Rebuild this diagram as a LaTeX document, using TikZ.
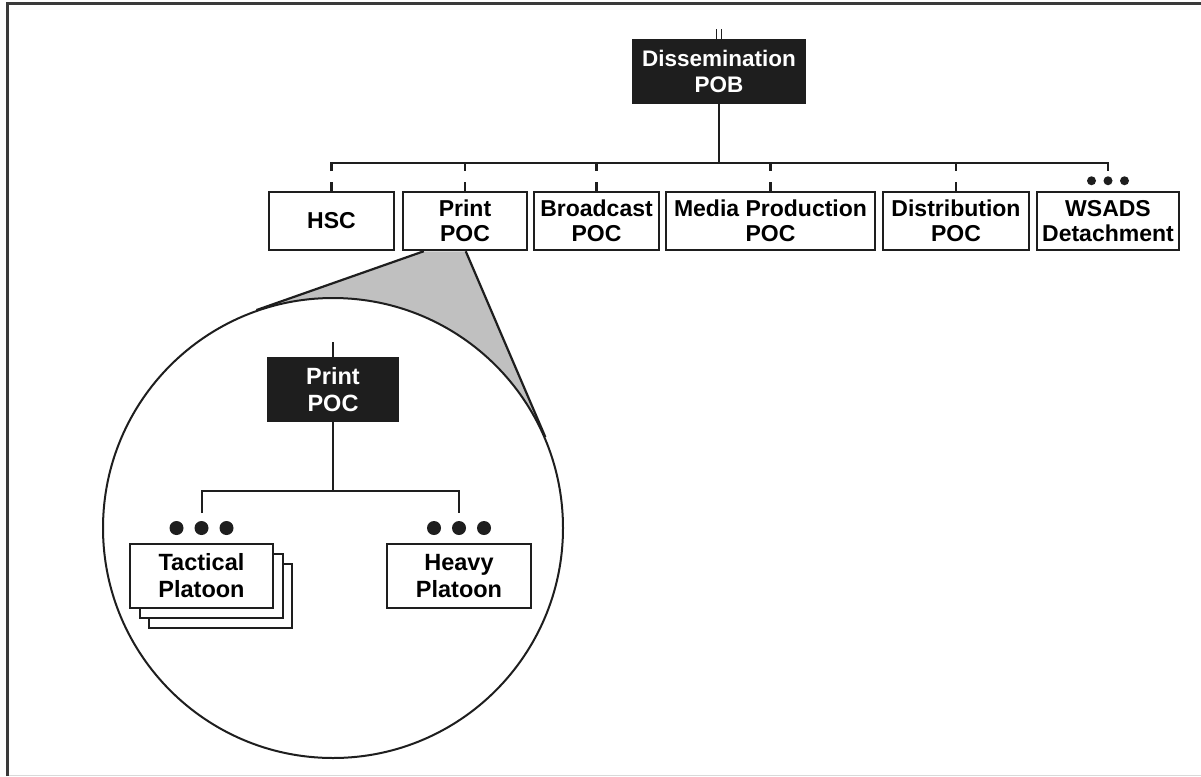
\documentclass[tikz,border=0pt]{standalone}
\usepackage{fontspec}
\setmainfont{Liberation Sans}
\usetikzlibrary{calc}
\pgfdeclarelayer{background}
\pgfsetlayers{background,main}
\definecolor{ink}{HTML}{1E1E1E}
\definecolor{wedge}{HTML}{C0C0C0}
\definecolor{framecol}{HTML}{3A3A3A}

\begin{document}
\begin{tikzpicture}[x=1pt,y=-1pt,
  unit/.style={draw=ink, line width=2.5pt, fill=white, inner sep=0pt, align=center,
    minimum height=58pt, font=\fontsize{23}{25.5}\selectfont\bfseries},
  hq/.style={fill=ink, text=white, inner sep=0pt, align=center,
    minimum height=65pt, font=\fontsize{22.5}{26.5}\selectfont\bfseries},
  sub/.style={draw=ink, line width=2pt, fill=white, inner sep=0pt, align=center,
    minimum width=143pt, minimum height=64pt, font=\fontsize{23.5}{27}\selectfont\bfseries},
  link/.style={draw=ink, line width=2.5pt},
  thinlink/.style={draw=ink, line width=2pt},
  smalldot/.style={circle, fill=ink, inner sep=0pt, minimum size=9pt},
  bigdot/.style={circle, fill=ink, inner sep=0pt, minimum size=14pt},
]
\useasboundingbox (0,0) rectangle (1201,776);

% page frame
\draw[framecol, line width=3pt] (7.5,776) -- (7.5,3.5) -- (1201,3.5);
\draw[black!15, line width=1pt] (9,775.5) -- (1201,775.5);

% headquarters
\node[hq, minimum width=174pt] (pob) at (719,71.5) {Dissemination\\POB};
\draw[ink, line width=1.6pt] ([xshift=-2.5pt]pob.north) -- ++(0,-10);
\draw[ink, line width=1.6pt] ([xshift=2.5pt]pob.north) -- ++(0,-10);

% subordinate row
\node[unit, minimum width=125pt] (hsc) at (331.5,221) {HSC};
\node[unit, minimum width=124pt] (print) at (465,221) {Print\\POC};
\node[unit, minimum width=125pt] (broad) at (596.5,221) {Broadcast\\POC};
\node[unit, minimum width=209pt] (media) at (770.5,221) {Media Production\\POC};
\node[unit, minimum width=146pt] (dist) at (956,221) {Distribution\\POC};
\node[unit, minimum width=142pt] (wsads) at (1108,221) {WSADS\\Detachment};

\coordinate (busrow) at (0,163);
\draw[link] (pob.south) -- (pob.south |- busrow);
\draw[link, line join=miter]
  ($(hsc.north |- busrow)+(0,8)$) -- (hsc.north |- busrow)
  -- (wsads.north |- busrow) -- ++(0,8);
\foreach \u in {print,broad,media,dist}
  \draw[link] (\u.north |- busrow) -- ++(0,8);
\foreach \u in {hsc,print,broad,media,dist}
  \draw[link] (\u.north) -- ++(0,-9);
\node[smalldot] (wd2) at ($(wsads.north)+(0,-10)$) {};
\node[smalldot] (wd1) at ($(wd2)+(-16.5,0)$) {};
\node[smalldot] (wd3) at ($(wd2)+(16.5,0)$) {};

% magnified view of the print company
\node[circle, draw=ink, line width=2pt, fill=white, minimum size=460pt, inner sep=0pt] (lens) at (333,528) {};
\coordinate (wl) at ([xshift=22pt]print.south west);
\coordinate (wr) at ([xshift=64pt]print.south west);
\coordinate (tl) at (tangent cs:node=lens,point={(wl)},solution=1);
\coordinate (tr) at (tangent cs:node=lens,point={(wr)},solution=2);
\begin{pgfonlayer}{background}
  \fill[wedge] (wl) -- (tl) -- (tr) -- (wr) -- cycle;
\end{pgfonlayer}
\draw[ink, line width=2.2pt] (wl) -- (tl);
\draw[ink, line width=2.2pt] (wr) -- (tr);

\node[hq, minimum width=132pt, font=\fontsize{23.5}{27}\selectfont\bfseries] (inpoc) at (333,389.5) {Print\\POC};
\draw[thinlink] (inpoc.north) -- ++(0,-15);

\node[sub] (tacC) at (220.5,596) {};
\node[sub] (tacB) at (211,586) {};
\node[sub] (tac) at (201.5,576) {Tactical\\Platoon};
\node[sub, minimum width=144pt] (heavy) at (459,576) {Heavy\\Platoon};

\coordinate (inbus) at (0,491);
\draw[thinlink] (inpoc.south) -- (inpoc.south |- inbus);
\draw[thinlink, line join=miter]
  ($(tac.north |- inbus)+(0,22)$) -- (tac.north |- inbus)
  -- (heavy.north |- inbus) -- ++(0,22);

\node[bigdot] (td2) at ($(tac.north)+(0,-15)$) {};
\node[bigdot] (td1) at ($(td2)+(-25,0)$) {};
\node[bigdot] (td3) at ($(td2)+(25,0)$) {};
\node[bigdot] (hd2) at ($(heavy.north)+(0,-15)$) {};
\node[bigdot] (hd1) at ($(hd2)+(-25,0)$) {};
\node[bigdot] (hd3) at ($(hd2)+(25,0)$) {};
\end{tikzpicture}
\end{document}
